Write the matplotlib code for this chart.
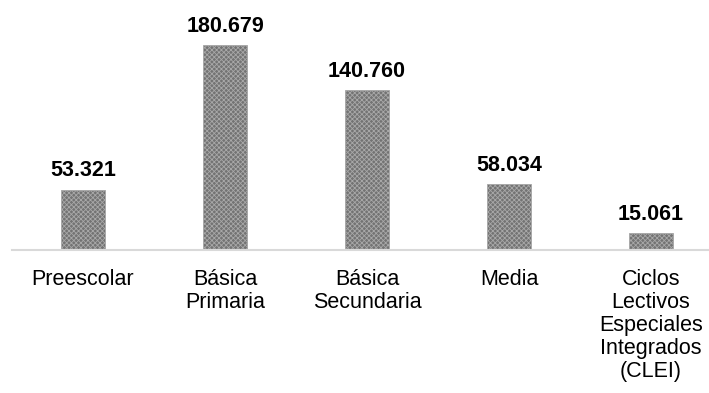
import matplotlib
matplotlib.use("Agg")
import matplotlib.pyplot as plt

categories = ["Preescolar", "Básica\nPrimaria", "Básica\nSecundaria", "Media",
              "Ciclos\nLectivos\nEspeciales\nIntegrados\n(CLEI)"]
values = [53321, 180679, 140760, 58034, 15061]
value_labels = ["53.321", "180.679", "140.760", "58.034", "15.061"]

plt.rcParams["font.family"] = ["Liberation Sans", "DejaVu Sans"]
plt.rcParams["hatch.color"] = "#575757"
plt.rcParams["hatch.linewidth"] = 0.6

W, H = 709, 393
fig = plt.figure(figsize=(W / 100, H / 100), dpi=100)
ax = fig.add_axes([12 / W, 143 / H, 710 / W, 250 / H])

x = list(range(len(categories)))
bars = ax.bar(x, values, width=0.315, color="#737373", edgecolor="#a8a8a8",
              linewidth=0.6, hatch="xxxxxxx", zorder=2)

for xi, v, lab in zip(x, values, value_labels):
    ax.annotate(lab, (xi, v), xytext=(0, 6), textcoords="offset points",
                ha="center", va="bottom", fontsize=15.5, fontweight="bold",
                color="#000000")

ax.set_xlim(-0.5, 4.5)
ax.set_ylim(0, 220350)
for s in ["top", "right", "left"]:
    ax.spines[s].set_visible(False)
ax.spines["bottom"].set_color("#d9d9d9")
ax.spines["bottom"].set_linewidth(1.5)
ax.set_yticks([])
ax.set_xticks(x)
ax.set_xticklabels(categories, fontsize=15.5, linespacing=1.12, color="#000000")
ax.tick_params(axis="x", length=0, pad=14)

fig.savefig("out.png", dpi=100)
